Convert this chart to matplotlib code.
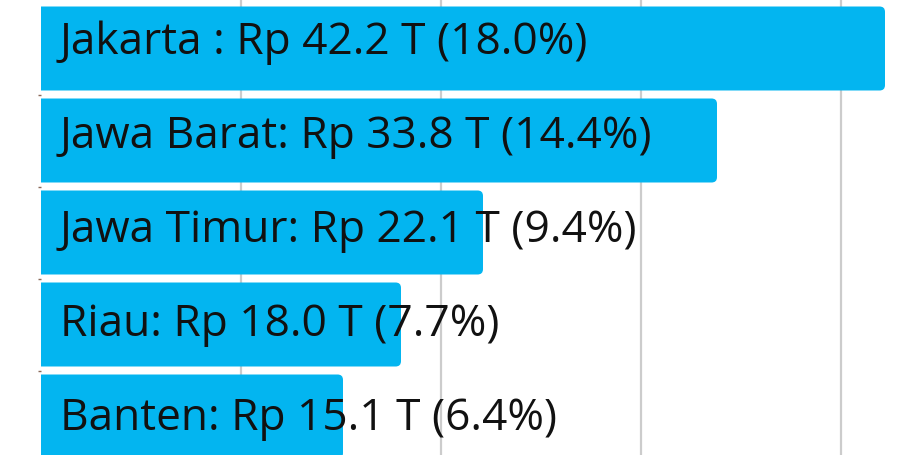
import matplotlib.pyplot as plt
from matplotlib.patches import FancyBboxPatch

# data
regions = ['Jakarta', 'Jawa Barat', 'Jawa Timur', 'Riau', 'Banten']
values = [42.2, 33.8, 22.1, 18.0, 15.1]
shares = [18.0, 14.4, 9.4, 7.7, 6.4]
labels = ['Jakarta : Rp 42.2 T (18.0%)',
          'Jawa Barat: Rp 33.8 T (14.4%)',
          'Jawa Timur: Rp 22.1 T (9.4%)',
          'Riau: Rp 18.0 T (7.7%)',
          'Banten: Rp 15.1 T (6.4%)']
grid_ticks = [10, 20, 30, 40]

BAR_COLOR = '#03b5f0'
W, H = 915, 455

fig = plt.figure(figsize=(W / 100, H / 100), dpi=100)
ax = fig.add_axes([41 / W, 0, 1 - 41 / W, 1])

y = list(range(len(regions)))
bars = ax.barh(y, values, height=0.913, color=BAR_COLOR, zorder=2)

ax.set_xlim(0, (W - 41) / 20)
ax.set_ylim((H - 48.5) / 92, -48.5 / 92)

# rounded right corners: swap each bar for a rounded patch that starts left of the axes
aspect = 20 / 92
for b in bars:
    x0, y0 = b.get_x(), b.get_y()
    w, h = b.get_width(), b.get_height()
    b.remove()
    ax.add_patch(FancyBboxPatch((x0 - 1, y0), w + 1, h,
                                boxstyle='round,pad=0,rounding_size=0.27',
                                mutation_aspect=aspect,
                                facecolor=BAR_COLOR, edgecolor='none', zorder=2))

# labels sit a touch lower on each following row
for yi, lab in zip(y, labels):
    ax.text(0.95, yi * 1.0217 + 0.06, lab, fontsize=31.9, family=['Open Sans', 'DejaVu Sans'],
            color='#111111', va='baseline', ha='left', zorder=3)

ax.set_xticks(grid_ticks)
ax.xaxis.grid(True, color='#cccccc', linewidth=1.6, zorder=0)
ax.set_axisbelow(True)
ax.tick_params(axis='x', length=0, labelbottom=False)
ax.set_yticks([i + 0.5 for i in y[:-1]])
ax.tick_params(axis='y', length=2, width=1, color='#8a6a5a', labelleft=False, direction='out')
for s in ax.spines.values():
    s.set_visible(False)

fig.savefig('out.png', dpi=100)
